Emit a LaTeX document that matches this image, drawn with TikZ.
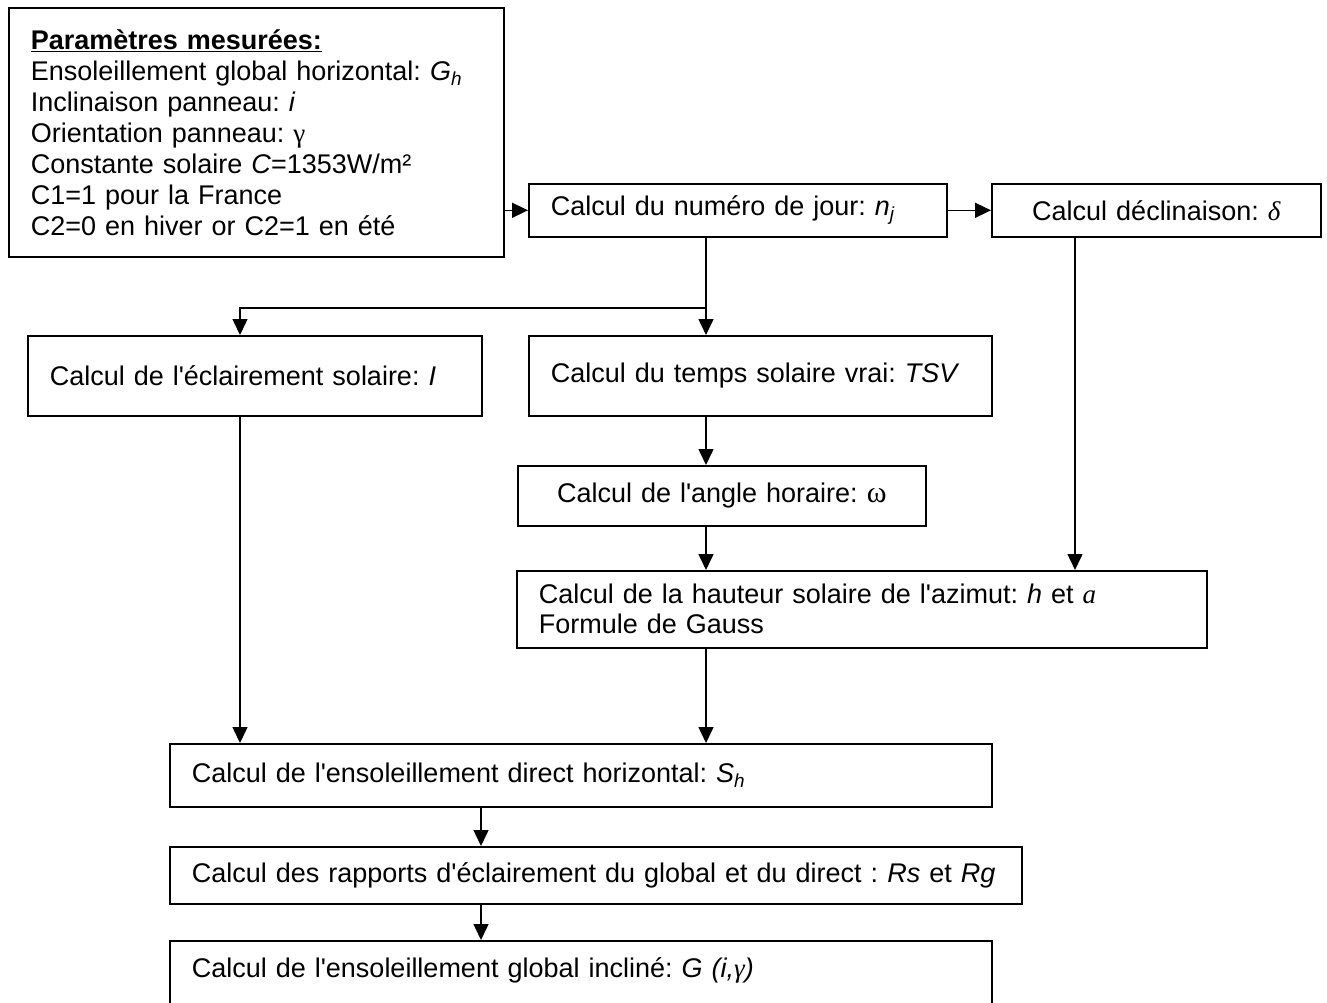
\documentclass[tikz,border=0pt]{standalone}
\usepackage{fontspec}
\setmainfont{Liberation Sans}
\newfontfamily\symb{Liberation Serif}
\usetikzlibrary{arrows.meta}
\newcommand\apos{\textquotesingle}
\frenchspacing
\tikzset{
  stepbox/.style={draw,line width=1.6pt,anchor=north west,inner xsep=22pt,inner ysep=0pt,align=left},
  flow/.style={line width=1.5pt,-{Triangle[length=16pt,width=15pt]}},
  trunk/.style={line width=1.5pt}
}

\begin{document}
\begin{tikzpicture}[x=1pt,y=-1pt,font=\fontsize{27}{30}\selectfont]
  \path[use as bounding box,clip] (0,0) rectangle (1327,1003);
  \fill[white] (0,0) rectangle (1327,1003);
  \node[stepbox,minimum height=249,text width=451,font=\fontsize{27}{31}\selectfont] (params) at (8,7) {%
    \textbf{\underline{Paramètres mesurées:}}\\
    Ensoleillement global horizontal: \textit{G\textsubscript{h}}\\
    Inclinaison panneau: \textit{i}\\
    Orientation panneau: {\symb γ}\\
    Constante solaire \textit{C}=1353W/m²\\
    C1=1 pour la France\\
    C2=0 en hiver or C2=1 en été\par\vspace*{12pt}};
  \node[stepbox,minimum height=53,text width=374] (jour) at (528,183) {Calcul du numéro de jour: \textit{n\textsubscript{j}}};
  \node[stepbox,minimum height=53,text width=285,align=center] (decl) at (991,183) {Calcul déclinaison: {\symb\itshape δ}};
  \node[stepbox,minimum height=80,text width=410] (eclair) at (27,335) {Calcul de l\apos éclairement solaire: \textit{I}};
  \node[stepbox,minimum height=80,text width=419] (tsv) at (528,335) {Calcul du temps solaire vrai: \textit{TSV}};
  \node[stepbox,minimum height=60,text width=364,align=center] (angle) at (517,465) {Calcul de l\apos angle horaire: {\symb\fontsize{30}{30}\selectfont ω}};
  \node[stepbox,minimum height=77,text width=646] (haut) at (516,570) {Calcul de la hauteur solaire de l\apos azimut: \textit{h} et {\symb\itshape a}\\Formule de Gauss};
  \node[stepbox,minimum height=63,text width=778] (direct) at (169,743) {Calcul de l\apos ensoleillement direct horizontal: \textit{S\textsubscript{h}}};
  \node[stepbox,minimum height=57,text width=808] (rapports) at (169,846) {Calcul des rapports d\apos éclairement du global et du direct : \textit{Rs} et \textit{Rg}};
  \node[stepbox,minimum height=84,text width=778] (incl) at (169,940) {Calcul de l\apos ensoleillement global incliné: \textit{G (i,{\symb γ})}\\ ~};
  \coordinate (fork) at (706,308);
  \coordinate (colA) at (240,0);
  \coordinate (colC) at (1075,0);
  \coordinate (colD) at (481,0);
  \draw[flow] (params.east |- jour.west) -- (jour.west);
  \draw[flow] (jour.east) -- (decl.west);
  \draw[trunk] (jour.south -| fork) -- (fork);
  \draw[flow] (fork) -| (eclair.north -| colA);
  \draw[flow] (fork) -- (tsv.north -| fork);
  \draw[flow] (tsv.south -| fork) -- (angle.north -| fork);
  \draw[flow] (angle.south -| fork) -- (haut.north -| fork);
  \draw[flow] (decl.south -| colC) -- (haut.north -| colC);
  \draw[flow] (eclair.south -| colA) -- (direct.north -| colA);
  \draw[flow] (haut.south -| fork) -- (direct.north -| fork);
  \draw[flow] (direct.south -| colD) -- (rapports.north -| colD);
  \draw[flow] (rapports.south -| colD) -- (incl.north -| colD);
\end{tikzpicture}
\end{document}
